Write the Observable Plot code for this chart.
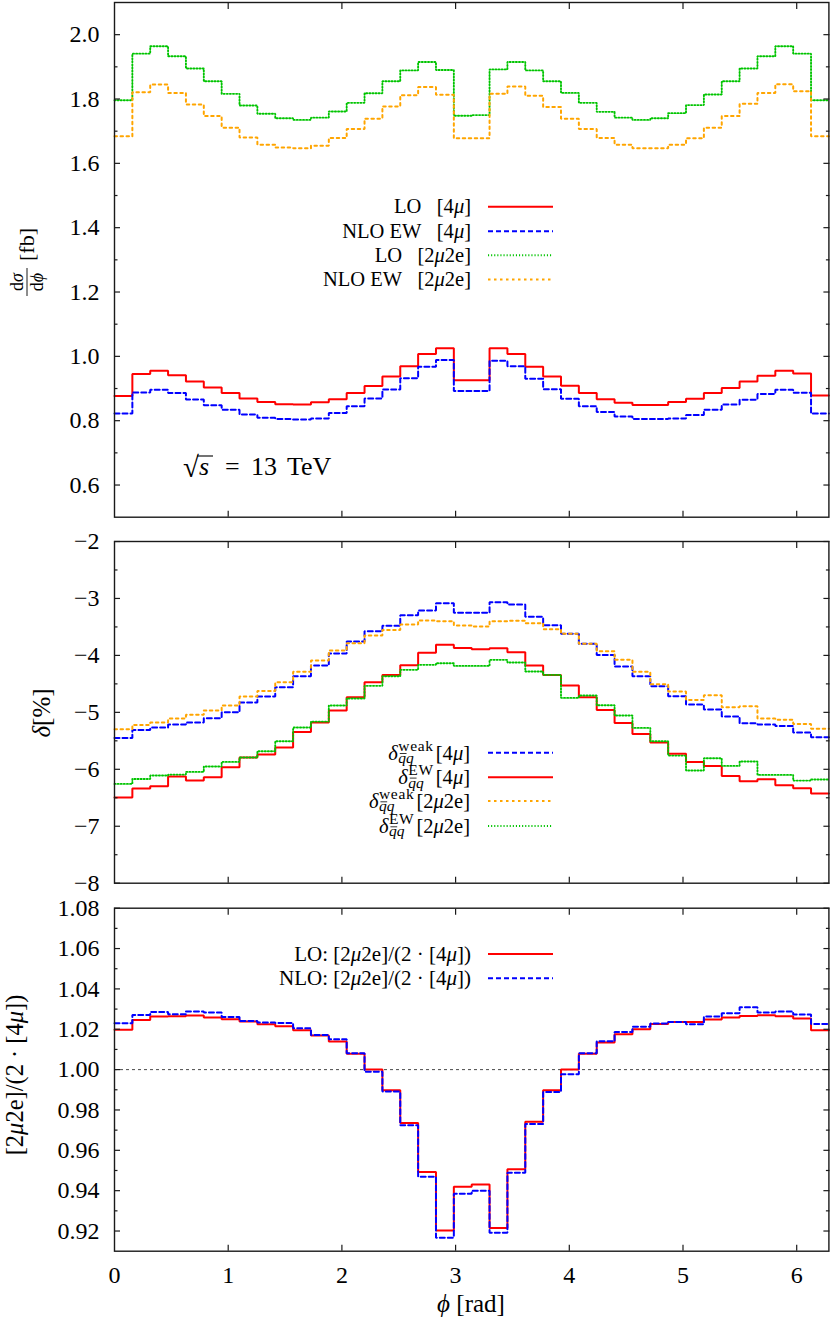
<!DOCTYPE html>
<html><head><meta charset="utf-8">
<script src="https://cdn.jsdelivr.net/npm/d3@7"></script>
<script src="https://cdn.jsdelivr.net/npm/@observablehq/plot@0.6"></script>
<style>
body{margin:0;background:#fff;overflow:hidden;}
#chart{position:relative;width:830px;height:1326px;background:#fff;}
#chart svg{position:absolute;left:0;overflow:visible;}
#chart svg text{font-family:"Liberation Serif","Times New Roman",serif;}
</style></head><body><div id="chart"></div>
<script>
// ---------- data (40 bins in phi from 0 to 2*pi) ----------
const phiMax = 2 * Math.PI;

const loFourMu = [0.877,0.945,0.955,0.941,0.922,0.903,0.886,0.869,0.858,0.851,0.850,0.857,0.867,0.886,0.908,0.937,0.969,1.007,1.025,0.926,0.926,1.025,1.007,0.968,0.937,0.909,0.886,0.867,0.856,0.849,0.849,0.858,0.868,0.886,0.902,0.922,0.940,0.955,0.947,0.878];
const nloFourMu = [0.822,0.888,0.896,0.886,0.866,0.848,0.834,0.819,0.809,0.805,0.804,0.807,0.824,0.845,0.869,0.897,0.932,0.968,0.989,0.892,0.892,0.986,0.969,0.930,0.898,0.868,0.845,0.827,0.813,0.805,0.805,0.807,0.818,0.834,0.850,0.865,0.883,0.896,0.887,0.822];
const loTwoMuTwoE = [1.796,1.941,1.964,1.933,1.895,1.855,1.816,1.780,1.754,1.740,1.735,1.742,1.761,1.788,1.818,1.855,1.889,1.915,1.890,1.748,1.750,1.892,1.915,1.889,1.855,1.819,1.788,1.760,1.742,1.735,1.740,1.756,1.781,1.814,1.855,1.895,1.933,1.964,1.941,1.796];
const nloTwoMuTwoE = [1.684,1.821,1.845,1.819,1.783,1.747,1.711,1.680,1.658,1.649,1.647,1.655,1.679,1.707,1.739,1.777,1.812,1.837,1.813,1.678,1.678,1.816,1.839,1.810,1.775,1.739,1.707,1.679,1.658,1.647,1.647,1.658,1.678,1.711,1.747,1.785,1.819,1.846,1.824,1.684];

const weakFourMu = [-5.449,-5.308,-5.267,-5.214,-5.179,-5.103,-4.998,-4.828,-4.722,-4.559,-4.365,-4.178,-3.967,-3.756,-3.575,-3.481,-3.294,-3.212,-3.083,-3.253,-3.253,-3.066,-3.107,-3.323,-3.470,-3.622,-3.797,-3.991,-4.196,-4.365,-4.541,-4.717,-4.863,-4.951,-5.074,-5.191,-5.214,-5.238,-5.355,-5.437];
const ewFourMu = [-6.496,-6.338,-6.297,-6.128,-6.198,-6.139,-5.964,-5.794,-5.741,-5.618,-5.343,-5.179,-4.968,-4.734,-4.471,-4.342,-4.172,-3.955,-3.815,-3.868,-3.891,-3.874,-3.944,-4.178,-4.342,-4.529,-4.734,-4.957,-5.185,-5.378,-5.530,-5.729,-5.870,-5.940,-6.116,-6.210,-6.175,-6.280,-6.333,-6.426];
const weakTwoMuTwoE = [-5.296,-5.220,-5.179,-5.109,-5.044,-4.968,-4.881,-4.722,-4.623,-4.471,-4.289,-4.090,-3.915,-3.786,-3.651,-3.552,-3.458,-3.388,-3.399,-3.475,-3.493,-3.399,-3.393,-3.434,-3.540,-3.622,-3.797,-3.926,-4.078,-4.289,-4.506,-4.635,-4.781,-4.699,-4.910,-4.892,-5.109,-5.132,-5.203,-5.290];
const ewTwoMuTwoE = [-6.256,-6.169,-6.110,-6.093,-6.046,-5.952,-5.870,-5.794,-5.683,-5.507,-5.267,-5.162,-4.881,-4.758,-4.535,-4.365,-4.254,-4.166,-4.137,-4.184,-4.184,-4.078,-4.125,-4.283,-4.342,-4.746,-4.705,-4.875,-5.056,-5.273,-5.507,-5.759,-6.022,-5.806,-5.940,-5.864,-6.098,-6.098,-6.198,-6.180];

const loRatio = [1.0198,1.0246,1.0263,1.0264,1.0268,1.0258,1.0250,1.0238,1.0225,1.0215,1.0195,1.0169,1.0139,1.0079,1.0000,0.9898,0.9736,0.9493,0.9202,0.9420,0.9431,0.9215,0.9506,0.9742,0.9898,1.0000,1.0078,1.0134,1.0175,1.0200,1.0226,1.0236,1.0236,1.0248,1.0258,1.0266,1.0269,1.0264,1.0253,1.0195];
const nloRatio = [1.0230,1.0271,1.0286,1.0274,1.0288,1.0283,1.0261,1.0241,1.0233,1.0231,1.0205,1.0172,1.0150,1.0081,0.9990,0.9891,0.9724,0.9469,0.9167,0.9385,0.9400,0.9192,0.9489,0.9731,0.9889,0.9977,1.0081,1.0140,1.0187,1.0212,1.0228,1.0236,1.0225,1.0263,1.0279,1.0309,1.0283,1.0288,1.0273,1.0226];

const xTickLabels = [0, 1, 2, 3, 4, 5, 6];
const xTickMarks = [1, 2, 3, 4, 5, 6];
const topMajor = [0.6, 0.8, 1.0, 1.2, 1.4, 1.6, 1.8, 2.0];
const topMinor = [0.7, 0.9, 1.1, 1.3, 1.5, 1.7, 1.9];
const midMajor = [-8, -7, -6, -5, -4, -3, -2];
const midMinor = [-7.5, -6.5, -5.5, -4.5, -3.5, -2.5];
const botMajor = [0.92, 0.94, 0.96, 0.98, 1.00, 1.02, 1.04, 1.06, 1.08];
const botMinor = [0.93, 0.95, 0.97, 0.99, 1.01, 1.03, 1.05, 1.07];

// ---------- styling ----------
const FONT = "Liberation Serif, Times New Roman, serif";
const W = 830, ML = 114, MR = 1.6;
const INK = "#1a1a1a";
const RED = "#ff0000", BLUE = "#0000ff", GREEN = "#00c400", ORANGE = "#ffa500";
const sty = {
  red: {stroke: RED, strokeWidth: 2},
  blue: {stroke: BLUE, strokeWidth: 2, strokeDasharray: "5,3"},
  green: {stroke: GREEN, strokeWidth: 1.9, strokeDasharray: "1.1,2"},
  orange: {stroke: ORANGE, strokeWidth: 2, strokeDasharray: "2.5,3.5"}
};

function steps(values) {
  const w = phiMax / values.length;
  const pts = values.map((v, i) => ({phi: i * w, value: v}));
  pts.push({phi: phiMax, value: values[values.length - 1]});
  return pts;
}
function stepLine(values, s) {
  return Plot.line(steps(values), {x: "phi", y: "value", curve: "step-after", strokeLinejoin: "miter", ...s});
}
const blank = () => "";
function tickMarks(yMajor, yMinor) {
  const o = {tickFormat: blank, label: null, stroke: INK, strokeWidth: 1.2};
  return [
    Plot.axisY(yMajor, {anchor: "left", tickSize: -6, ...o}),
    Plot.axisY(yMajor, {anchor: "right", tickSize: -6, ...o}),
    Plot.axisY(yMinor, {anchor: "left", tickSize: -3.5, ...o}),
    Plot.axisY(yMinor, {anchor: "right", tickSize: -3.5, ...o}),
    Plot.axisX(xTickMarks, {anchor: "bottom", tickSize: -6, ...o}),
    Plot.axisX(xTickMarks, {anchor: "top", tickSize: -6, ...o})
  ];
}
function yLabels(vals, fmt) {
  return Plot.axisY(vals, {anchor: "left", tickSize: 0, tickPadding: 15, tickFormat: fmt, label: null, fontSize: 24, fill: "#000", fontFamily: FONT});
}
const baseStyle = {fontFamily: FONT, fontSize: "23px", background: "transparent", overflow: "visible", color: "#000"};

const chart = document.getElementById("chart");
function place(svg, top) { svg.style.top = top + "px"; chart.appendChild(svg); return svg; }

const svg1 = place(Plot.plot({
  width: W, height: 528, marginLeft: ML, marginRight: MR, marginTop: 2, marginBottom: 11.3,
  style: baseStyle,
  x: {domain: [0, phiMax]},
  y: {domain: [0.5, 2.1]},
  marks: [
    stepLine(loFourMu, sty.red),
    stepLine(nloFourMu, sty.blue),
    stepLine(loTwoMuTwoE, sty.green),
    stepLine(nloTwoMuTwoE, sty.orange),
    ...tickMarks(topMajor, topMinor),
    yLabels(topMajor, d => d.toFixed(1)),
    Plot.frame({stroke: INK, strokeWidth: 1.4})
  ]
}), 0);

const svg2 = place(Plot.plot({
  width: W, height: 366, marginLeft: ML, marginRight: MR, marginTop: 13, marginBottom: 11.3,
  style: baseStyle,
  x: {domain: [0, phiMax]},
  y: {domain: [-8, -2]},
  marks: [
    stepLine(weakFourMu, sty.blue),
    stepLine(ewFourMu, sty.red),
    stepLine(weakTwoMuTwoE, sty.orange),
    stepLine(ewTwoMuTwoE, sty.green),
    ...tickMarks(midMajor, midMinor),
    yLabels(midMajor, d => (d < 0 ? "\u2212" : "") + Math.abs(d)),
    Plot.frame({stroke: INK, strokeWidth: 1.4})
  ]
}), 528);

const svg3 = place(Plot.plot({
  width: W, height: 432, marginLeft: ML, marginRight: MR, marginTop: 13.7, marginBottom: 75.3,
  style: baseStyle,
  x: {domain: [0, phiMax]},
  y: {domain: [0.91, 1.08]},
  marks: [
    Plot.ruleY([1], {stroke: "#333", strokeWidth: 0.9, strokeDasharray: "3,3"}),
    stepLine(loRatio, sty.red),
    stepLine(nloRatio, sty.blue),
    ...tickMarks(botMajor, botMinor),
    yLabels(botMajor, d => d.toFixed(2)),
    Plot.axisX(xTickLabels, {anchor: "bottom", tickSize: 0, tickPadding: 15, label: null, tickFormat: d => String(d), fontSize: 24, fill: "#000", fontFamily: FONT}),
    Plot.frame({stroke: INK, strokeWidth: 1.4})
  ]
}), 894);

// ---------- text helpers ----------
function richText(sel, parts) {
  parts.forEach(p => {
    const t = sel.append("tspan").text(p.t);
    if (p.it) t.attr("font-style", "italic");
  });
  return sel;
}
function layer(svg) {
  return d3.select(svg).append("g").attr("fill", "#000").attr("text-anchor", "start");
}
const GAP = "\u2002 ";
function swatch(g, y, s) {
  g.append("line").attr("x1", 488).attr("x2", 553).attr("y1", y).attr("y2", y)
    .attr("stroke", s.stroke).attr("stroke-width", s.strokeWidth)
    .attr("stroke-dasharray", s.strokeDasharray || null);
}
function simpleLegend(svg, top, rows, fontSize) {
  const g = layer(svg).attr("font-size", fontSize);
  rows.forEach(r => {
    const y = r.y - top;
    richText(g.append("text").attr("x", 471).attr("y", y).attr("dy", "0.33em").attr("text-anchor", "end"), r.parts);
    swatch(g, y, r.s);
  });
}
function measure(g, text, size, italic, spacing) {
  const t = g.append("text").attr("font-size", size).text(text);
  if (italic) t.attr("font-style", "italic");
  if (spacing) t.attr("letter-spacing", spacing);
  const w = t.node().getComputedTextLength();
  const w1 = t.node().getSubStringLength(0, 1);
  t.remove();
  return [w, w1];
}

simpleLegend(svg1, 0, [
  {y: 206.7, s: sty.red, parts: [{t: "LO" + GAP + "[4"}, {t: "μ", it: true}, {t: "]"}]},
  {y: 231.2, s: sty.blue, parts: [{t: "NLO EW" + GAP + "[4"}, {t: "μ", it: true}, {t: "]"}]},
  {y: 255.3, s: sty.green, parts: [{t: "LO" + GAP + "[2"}, {t: "μ", it: true}, {t: "2e]"}]},
  {y: 279.5, s: sty.orange, parts: [{t: "NLO EW" + GAP + "[2"}, {t: "μ", it: true}, {t: "2e]"}]}
], 20.5);

// sqrt(s) = 13 TeV
{
  const g = layer(svg1).attr("font-size", 26);
  const t = g.append("text").attr("y", 475);
  t.append("tspan").attr("x", 183).attr("font-size", 29).attr("dy", 2).text("√");
  t.append("tspan").attr("x", 199).attr("dy", -2).attr("font-style", "italic").text("s");
  t.append("tspan").attr("x", 225).text("=");
  t.append("tspan").attr("x", 251).text("13");
  t.append("tspan").attr("x", 287).text("TeV");
  g.append("line").attr("x1", 197).attr("x2", 213).attr("y1", 456).attr("y2", 456)
    .attr("stroke", "#000").attr("stroke-width", 1.1);
}

// panel 1 y label: dσ/dϕ [fb]
{
  const g = layer(svg1).attr("transform", "translate(27,296) rotate(-90)");
  richText(g.append("text").attr("x", 14).attr("y", -4).attr("text-anchor", "middle").attr("font-size", 18),
    [{t: "d"}, {t: "σ", it: true}]);
  g.append("line").attr("x1", 0).attr("x2", 28).attr("y1", 0).attr("y2", 0).attr("stroke", "#000").attr("stroke-width", 0.9);
  richText(g.append("text").attr("x", 14).attr("y", 16).attr("text-anchor", "middle").attr("font-size", 18),
    [{t: "d"}, {t: "ϕ", it: true}]);
  g.append("text").attr("x", 35).attr("y", 7).attr("font-size", 22).text("[fb]");
}

// panel 2 legend with sub/superscripts (each row is one text element)
{
  const top = 528;
  const g = layer(svg2);
  const rows = [
    {y: 752.7, s: sty.blue, sup: "weak", tail: [{t: "[4"}, {t: "μ", it: true}, {t: "]"}]},
    {y: 777.3, s: sty.red, sup: "EW", tail: [{t: "[4"}, {t: "μ", it: true}, {t: "]"}]},
    {y: 801.0, s: sty.orange, sup: "weak", tail: [{t: "[2"}, {t: "μ", it: true}, {t: "2e]"}]},
    {y: 826.0, s: sty.green, sup: "EW", tail: [{t: "[2"}, {t: "μ", it: true}, {t: "2e]"}]}
  ];
  const FS = 20.5, SS = 15.5;
  rows.forEach(r => {
    const y = r.y - top;
    const base = y + 6.8;
    const tmp = richText(g.append("text").attr("font-size", FS), r.tail);
    const wTail = tmp.node().getComputedTextLength();
    tmp.remove();
    const [wSup] = measure(g, r.sup, SS, false, "0.7px");
    const [wSub, wq] = measure(g, "qq", SS, true);
    const [wDelta] = measure(g, "δ", FS, true);
    const col = Math.max(wSup, wSub);
    const left = 470 - wTail - col - 2;
    const t = g.append("text");
    t.append("tspan").attr("x", left - 0.5 - wDelta).attr("y", base).attr("font-size", FS).attr("font-style", "italic").text("δ");
    t.append("tspan").attr("x", left).attr("y", base - 9).attr("font-size", SS).attr("letter-spacing", "0.7px").text(r.sup);
    t.append("tspan").attr("x", left).attr("y", base + 3.5).attr("font-size", SS).attr("font-style", "italic").text("qq");
    const tail = t.append("tspan").attr("x", 470 - wTail).attr("y", base).attr("font-size", FS);
    richText(tail, r.tail);
    g.append("line").attr("x1", left + 1.5).attr("x2", left + wq + 0.5)
      .attr("y1", base + 3.5 - 9.5).attr("y2", base + 3.5 - 9.5).attr("stroke", "#000").attr("stroke-width", 0.8);
    swatch(g, y, r.s);
  });
}

// panel 2 y label: δ[%]
{
  const t = layer(svg2).append("text").attr("transform", `translate(50,${713 - 528}) rotate(-90)`)
    .attr("text-anchor", "middle").attr("font-size", 25);
  richText(t, [{t: "δ", it: true}, {t: "[%]"}]);
}

// panel 3 legend
simpleLegend(svg3, 894, [
  {y: 954.0, s: sty.red, parts: [{t: "LO: [2"}, {t: "μ", it: true}, {t: "2e]/(2 · [4"}, {t: "μ", it: true}, {t: "])"}]},
  {y: 978.3, s: sty.blue, parts: [{t: "NLO: [2"}, {t: "μ", it: true}, {t: "2e]/(2 · [4"}, {t: "μ", it: true}, {t: "])"}]}
], 21);

// panel 3 y label
{
  const t = layer(svg3).append("text").attr("transform", `translate(23,${1075 - 894}) rotate(-90)`)
    .attr("text-anchor", "middle").attr("font-size", 24.5);
  richText(t, [{t: "[2"}, {t: "μ", it: true}, {t: "2e]/(2 · [4"}, {t: "μ", it: true}, {t: "])"}]);
}

// x axis label
{
  const t = layer(svg3).append("text").attr("x", 471).attr("y", 1312 - 894)
    .attr("text-anchor", "middle").attr("font-size", 25);
  richText(t, [{t: "ϕ", it: true}, {t: " [rad]"}]);
}
</script></body></html>
